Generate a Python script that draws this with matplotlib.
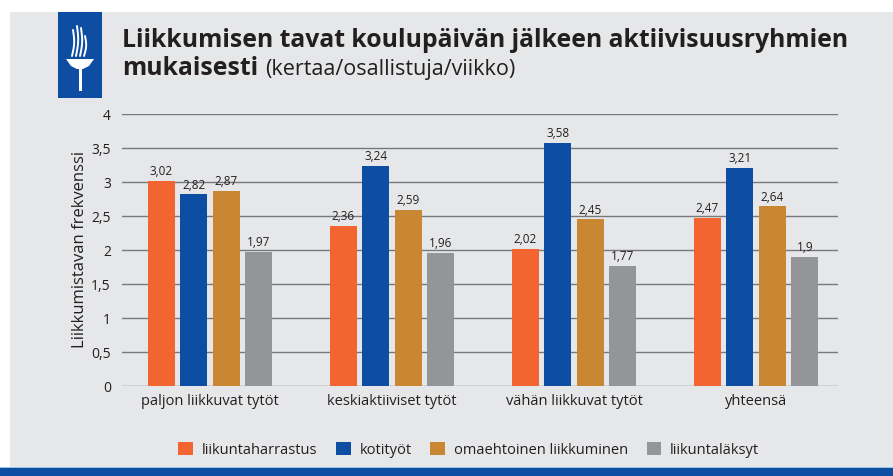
import matplotlib
matplotlib.use("Agg")
import matplotlib.pyplot as plt
import numpy as np
from matplotlib.patches import Rectangle, Polygon

# data
groups = ["paljon liikkuvat tytöt", "keskiaktiiviset tytöt", "vähän liikkuvat tytöt", "yhteensä"]
series = ["liikuntaharrastus", "kotityöt", "omaehtoinen liikkuminen", "liikuntaläksyt"]
harrastus = [3.02, 2.36, 2.02, 2.47]
kotityot = [2.82, 3.24, 3.58, 3.21]
omaehtoinen = [2.87, 2.59, 2.45, 2.64]
laksyt = [1.97, 1.96, 1.77, 1.9]
yticks = [0, 0.5, 1, 1.5, 2, 2.5, 3, 3.5, 4]

colors = ["#f26531", "#0d4ea2", "#c98633", "#939598"]
bg = "#e6e7e8"
txt = "#231f20"
plt.rcParams['font.family'] = ['Open Sans', 'DejaVu Sans']

fig = plt.figure(figsize=(8.93, 4.76), dpi=100)
fig.patch.set_facecolor("white")


def px(x, y):
    return (x / 893, 1 - y / 476)


# grey panel + blue band at bottom
fig.add_artist(Rectangle(px(10, 476), 1, 464 / 476, transform=fig.transFigure,
                         facecolor=bg, edgecolor="none", zorder=-3))
fig.add_artist(Rectangle((0, 0), 1, 8 / 476, transform=fig.transFigure,
                         facecolor="#0d4ea2", edgecolor="none", zorder=-2))
fig.add_artist(Rectangle((0, 8 / 476), 1, 1.5 / 476, transform=fig.transFigure,
                         facecolor="#9cc3e6", edgecolor="none", zorder=-2))

# logo (torch)
fig.add_artist(Rectangle(px(58, 98), 44 / 893, 86 / 476, transform=fig.transFigure,
                         facecolor="#0d4ea2", edgecolor="none", zorder=-2))
cup = [px(66, 59), px(94, 59), px(89, 66), px(83, 69), px(77, 69), px(71, 66)]
fig.add_artist(Polygon(cup, closed=True, transform=fig.transFigure,
                       facecolor="white", edgecolor="none", zorder=-1))
fig.add_artist(Rectangle(px(78.5, 91), 3 / 893, 23 / 476, transform=fig.transFigure,
                         facecolor="white", edgecolor="none", zorder=-1))
t = np.linspace(0, 1, 30)
for dx, top in [(0, 30), (4, 26), (8, 28), (12, 36)]:
    xs = 72 + dx - 2 * t + 4 * np.sin(t * np.pi) * 0.6 + 3 * t * t
    ys = 56 - (56 - top) * t
    fig.add_artist(plt.Line2D(xs / 893, 1 - ys / 476, transform=fig.transFigure,
                              color="white", lw=1.4, zorder=-1, solid_capstyle="round"))

# title
fig.text(122 / 893, 1 - 47 / 476, "Liikkumisen tavat koulupäivän jälkeen aktiivisuusryhmien",
         fontsize=17.8, fontweight="bold", color=txt, va="baseline")
t1 = fig.text(122 / 893, 1 - 75 / 476, "mukaisesti", fontsize=17.8, fontweight="bold",
              color=txt, va="baseline")
fig.canvas.draw()
bb = t1.get_window_extent()
fig.text((bb.x1 + 7) / 893, 1 - 75 / 476, "(kertaa/osallistuja/viikko)",
         fontsize=15.5, color=txt, va="baseline")

ax = fig.add_axes([122 / 893, 1 - 386 / 476, 716 / 893, 272 / 476])
ax.set_facecolor("none")
x = np.arange(len(groups))
pitch = 0.1786
width = 0.148
vals = [harrastus, kotityot, omaehtoinen, laksyt]
for i, (name, v) in enumerate(zip(series, vals)):
    xs = x + (i - 1.5) * pitch
    bars = ax.bar(xs, v, width=width, color=colors[i], label=name, zorder=3)
    for b, val in zip(bars, v):
        ax.text(b.get_x() + b.get_width() / 2, val + 0.04, f"{val:g}".replace(".", ","),
                ha="center", va="bottom", fontsize=8.5, color=txt)

ax.set_xlim(-0.484, 3.45)
ax.set_ylim(0, 4)
ax.set_yticks(yticks)
ax.set_yticklabels([f"{t:g}".replace(".", ",") for t in yticks], fontsize=10, color=txt)
ax.yaxis.grid(True, color="#77787b", lw=1, zorder=1)
ax.tick_params(axis="y", length=0, pad=8)
ax.tick_params(axis="x", length=0, pad=6)
ax.set_xticks(x)
ax.set_xticklabels(groups, fontsize=10.5, color=txt)
for s in ax.spines.values():
    s.set_visible(False)
ax.set_ylabel("Liikkumistavan frekvenssi", fontsize=12, color=txt, labelpad=2)

leg = fig.legend(loc="center", bbox_to_anchor=(0.525, 1 - 450 / 476), ncol=4, frameon=False,
                 fontsize=10.5, handlelength=1.0, handleheight=1.0, columnspacing=1.3,
                 handletextpad=0.6)
for t in leg.get_texts():
    t.set_color(txt)

fig.savefig("out.png", dpi=100)
